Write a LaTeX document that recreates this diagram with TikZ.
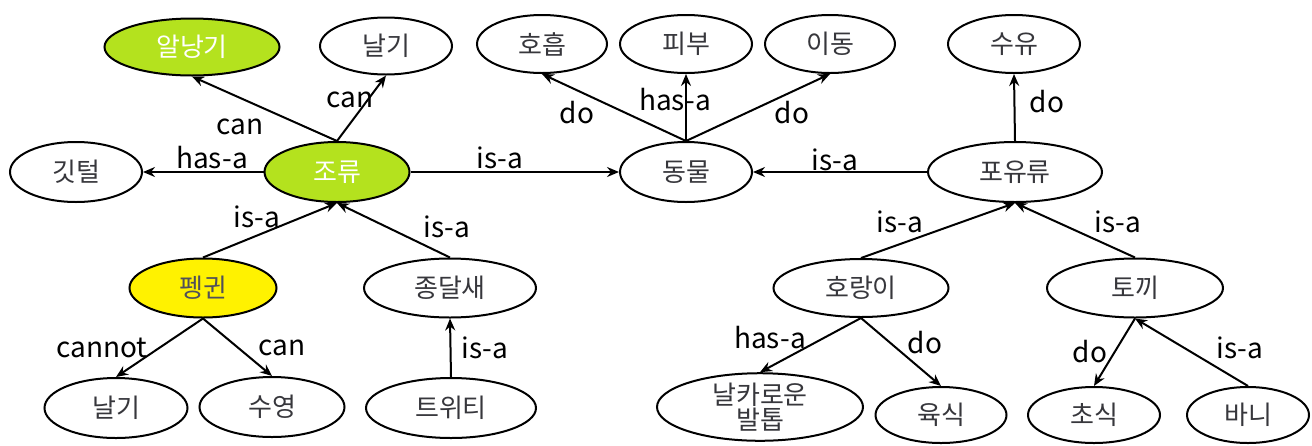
\documentclass[tikz,border=0pt]{standalone}
\usepackage{fontspec}
\setmainfont{Noto Sans CJK KR}
\usetikzlibrary{shapes.geometric,arrows.meta}
\definecolor{birdgreen}{RGB}{180,226,30}
\definecolor{pengyellow}{RGB}{255,242,0}
\definecolor{nodetext}{RGB}{55,55,60}
\tikzset{
  ov/.style={ellipse, draw=black, line width=2pt, inner sep=0pt, fill=white,
    text=nodetext, font=\fontsize{26}{26}\selectfont},
  greenov/.style={ov, fill=birdgreen, text=white},
  yellowov/.style={ov, fill=pengyellow, text={rgb,255:red,80;green,80;blue,90}},
  arr/.style={line width=2pt, -{Stealth[length=12pt,width=10pt,inset=4pt]}},
  lbl/.style={font=\fontsize{28}{28}\selectfont, text=black, inner sep=0pt}
}
\begin{document}
\begin{tikzpicture}[x=1pt,y=-1pt]
\useasboundingbox (0,0) rectangle (1312,445);
% nodes
\node[greenov, minimum width=175pt, minimum height=57pt] (al) at (192,47) {알낭기};
\node[ov, minimum width=132pt, minimum height=57pt] (nal1) at (386,46) {날기};
\node[ov, minimum width=132pt, minimum height=60pt] (git) at (76,172) {깃털};
\node[greenov, minimum width=145pt, minimum height=60pt] (jo) at (337,172) {조류};
\node[ov, minimum width=130pt, minimum height=58pt] (ho) at (542,44) {호흡};
\node[ov, minimum width=132pt, minimum height=58pt] (pi) at (686,44) {피부};
\node[ov, minimum width=130pt, minimum height=58pt] (id) at (830,44) {이동};
\node[ov, minimum width=132pt, minimum height=60pt] (dong) at (686,172) {동물};
\node[ov, minimum width=132pt, minimum height=58pt] (su) at (1014,44) {수유};
\node[ov, minimum width=174pt, minimum height=60pt] (po) at (1015,172) {포유류};
\node[yellowov, minimum width=147pt, minimum height=59pt] (peng) at (203,288) {펭귄};
\node[ov, minimum width=172pt, minimum height=59pt] (jong) at (450,288) {종달새};
\node[ov, minimum width=143pt, minimum height=60pt] (nal2) at (116,408) {날기};
\node[ov, minimum width=145pt, minimum height=60pt] (suy) at (272,407) {수영};
\node[ov, minimum width=170pt, minimum height=60pt] (tw) at (451,408) {트위티};
\node[ov, minimum width=175pt, minimum height=58pt] (horang) at (861,288) {호랑이};
\node[ov, minimum width=206pt, minimum height=66pt, align=center,
      font=\fontsize{26}{18}\selectfont] (nalk) at (760,407) {날카로운\\발톱};
\node[ov, minimum width=131pt, minimum height=56pt] (yuk) at (941,415) {육식};
\node[ov, minimum width=176pt, minimum height=59pt] (toki) at (1135,288) {토끼};
\node[ov, minimum width=132pt, minimum height=56pt] (cho) at (1094,415) {초식};
\node[ov, minimum width=122pt, minimum height=56pt] (bani) at (1248,415) {바니};
% connectors
\draw[arr] (jo.north) -- (al.south) node[lbl, at={(240,127)}] {can};
\draw[arr] (jo.north) -- (nal1.south) node[lbl, at={(350,100)}] {can};
\draw[arr] (jo.west) -- (git.east) node[lbl, at={(212,158)}] {has-a};
\draw[arr] (jo.east) -- (dong.west) node[lbl, at={(500,158)}] {is-a};
\draw[arr] (po.west) -- (dong.east) node[lbl, at={(835,160)}] {is-a};
\draw[arr] (dong.north) -- (ho.south) node[lbl, at={(577,113)}] {do};
\draw[arr] (dong.north) -- (pi.south) node[lbl, at={(675,100)}] {has-a};
\draw[arr] (dong.north) -- (id.south) node[lbl, at={(792,113)}] {do};
\draw[arr] (po.north) -- (su.south) node[lbl, at={(1047,102)}] {do};
\draw[arr] (peng.north) -- (jo.south) node[lbl, at={(257,217)}] {is-a};
\draw[arr] (jong.north) -- (jo.south) node[lbl, at={(447,227)}] {is-a};
\draw[arr] (peng.south) -- (nal2.north) node[lbl, at={(102,348)}] {cannot};
\draw[arr] (peng.south) -- (suy.north) node[lbl, at={(282,348)}] {can};
\draw[arr] (tw.north) -- (jong.south) node[lbl, at={(485,348)}] {is-a};
\draw[arr] (horang.north) -- (po.south) node[lbl, at={(900,222)}] {is-a};
\draw[arr] (toki.north) -- (po.south) node[lbl, at={(1118,222)}] {is-a};
\draw[arr] (horang.south) -- (nalk.north) node[lbl, at={(770,338)}] {has-a};
\draw[arr] (horang.south) -- (yuk.north) node[lbl, at={(925,343)}] {do};
\draw[arr] (toki.south) -- (cho.north) node[lbl, at={(1090,352)}] {do};
\draw[arr] (bani.north) -- (toki.south) node[lbl, at={(1240,348)}] {is-a};
\end{tikzpicture}
\end{document}
